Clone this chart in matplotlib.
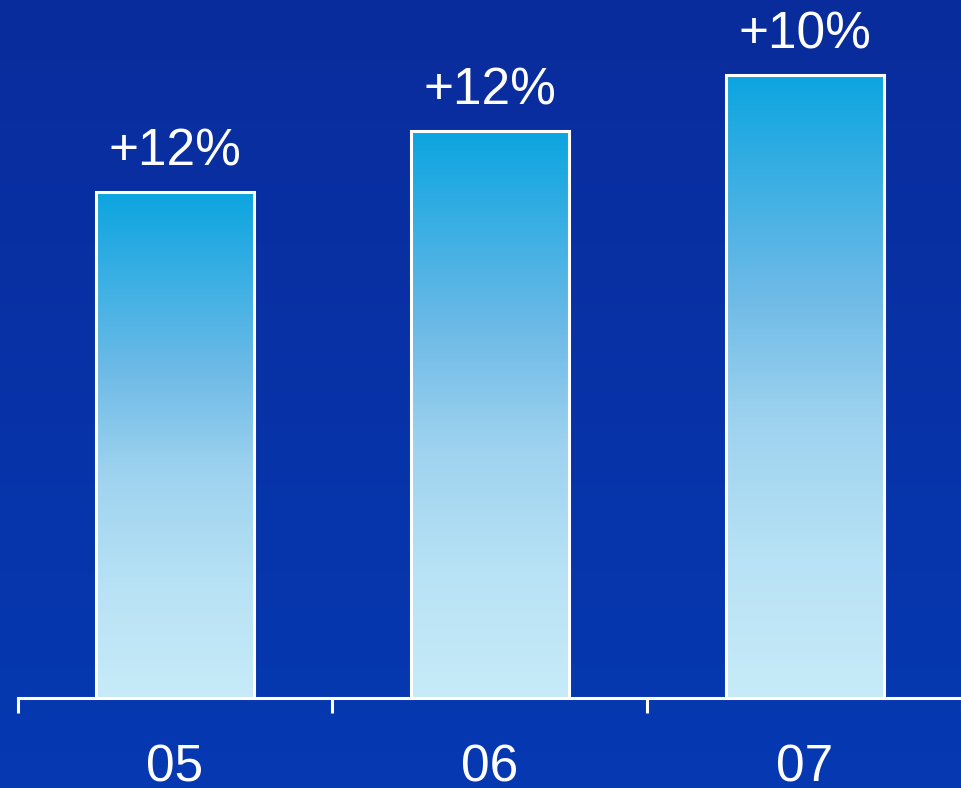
import numpy as np
import matplotlib.pyplot as plt
from matplotlib.colors import LinearSegmentedColormap, to_rgb

plt.rcParams['font.family'] = ['Liberation Sans', 'DejaVu Sans']

years = ['05', '06', '07']
sales = [100, 112, 123.2]          # index, 05 = 100
growth = ['+12%', '+12%', '+10%']

bar_cmap = LinearSegmentedColormap.from_list(
    'bar', [(0.0, '#0ca5e0'), (0.35, '#6dbae7'), (0.55, '#9dd2ef'),
            (0.78, '#b8e2f5'), (1.0, '#c7ebf8')])

fig = plt.figure(figsize=(9.62, 7.88), dpi=100)

# background: dark blue, slightly lighter toward the bottom
bg = fig.add_axes([0, 0, 1, 1])
bg.set_axis_off()
yy = np.linspace(0, 1, 400)[:, None, None]
top = np.array(to_rgb('#0a2c9c'))
bot = np.array(to_rgb('#0539b2'))
img = np.repeat(top * (1 - yy) + bot * yy, 2, axis=1)
bg.imshow(img, extent=[0, 1, 0, 1], aspect='auto', zorder=0)

ax = fig.add_axes([17.5 / 962, 90 / 788, 945 / 962, 698 / 788])
ax.patch.set_alpha(0)
ax.set_xlim(-0.5, 2.5)
ax.set_ylim(0, 698 / 5.06)

x = np.arange(len(years))
bars = ax.bar(x, sales, width=0.5, color='none', edgecolor='white',
              linewidth=2.2, zorder=3)

grad = np.linspace(0, 1, 256).reshape(-1, 1)
for b in bars:
    x0, w, h = b.get_x(), b.get_width(), b.get_height()
    im = ax.imshow(grad, cmap=bar_cmap, extent=[x0, x0 + w, 0, h],
                   origin='upper', aspect='auto', zorder=2)
    im.set_clip_path(b)

for xi, v, g in zip(x, sales, growth):
    ax.annotate(g, (xi, v), xytext=(0, 19), textcoords='offset points',
                ha='center', va='baseline', color='white', fontsize=37)

for s in ['top', 'left', 'right']:
    ax.spines[s].set_visible(False)
ax.spines['bottom'].set_color('white')
ax.spines['bottom'].set_linewidth(2.2)
ax.spines['bottom'].set_zorder(4)

ax.set_yticks([])
ax.set_xticks(x)
ax.set_xticklabels(years)
ax.set_xticks([-0.5, 0.5, 1.5, 2.5], minor=True)
ax.tick_params(axis='x', which='major', length=0, pad=33,
               labelsize=37, labelcolor='white')
ax.tick_params(axis='x', which='minor', length=11, width=2.2,
               color='white', direction='out')

fig.savefig('out.png', dpi=100)
